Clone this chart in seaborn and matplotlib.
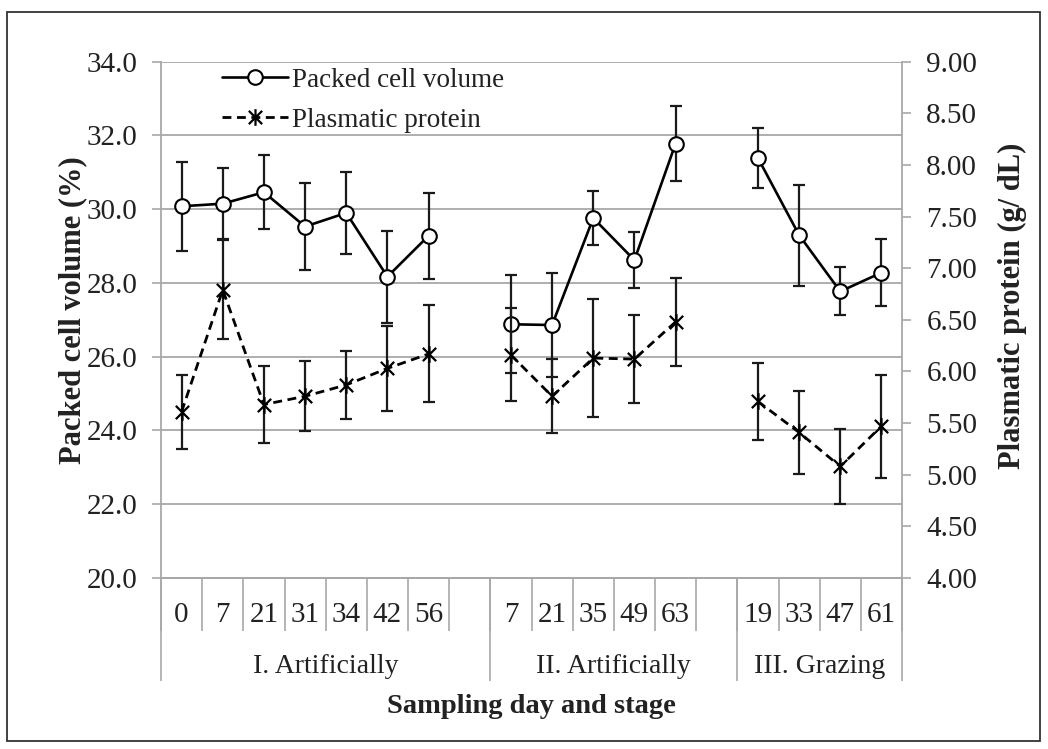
import numpy as np
import pandas as pd
import matplotlib
matplotlib.use("Agg")
import matplotlib.pyplot as plt
import seaborn as sns
from matplotlib.path import Path
from matplotlib.lines import Line2D
from matplotlib.patches import Rectangle
from matplotlib.ticker import FormatStrFormatter, FixedLocator

# ---------------- data ----------------
stages = ["I. Artificially", "II. Artificially", "III. Grazing"]
days_I = [0, 7, 21, 31, 34, 42, 56]
days_II = [7, 21, 35, 49, 63]
days_III = [19, 33, 47, 61]

pcv_I = [30.08, 30.15, 30.46, 29.53, 29.90, 28.17, 29.28]
pcv_II = [26.88, 26.86, 29.76, 28.62, 31.78]
pcv_III = [31.39, 29.30, 27.77, 28.28]
pcv_err_I = [1.20, 0.96, 1.00, 1.18, 1.12, 1.25, 1.17]
pcv_err_II = [1.33, 1.42, 0.74, 0.75, 1.02]
pcv_err_III = [0.82, 1.37, 0.65, 0.91]

prot_I = [5.61, 6.79, 5.68, 5.76, 5.87, 6.03, 6.17]
prot_II = [6.16, 5.76, 6.13, 6.12, 6.48]
prot_III = [5.71, 5.41, 5.08, 5.47]
prot_err_I = [0.36, 0.48, 0.37, 0.34, 0.33, 0.41, 0.47]
prot_err_II = [0.45, 0.36, 0.57, 0.43, 0.43]
prot_err_III = [0.37, 0.40, 0.36, 0.50]

blank_slots_after = [1, 1, 0]   # empty category slots after each stage

series_names = ["Packed cell volume", "Plasmatic protein"]
left_label = "Packed cell volume (%)"
right_label = "Plasmatic protein (g/ dL)"
x_label = "Sampling day and stage"

# ---------------- build table ----------------
groups = [
    (stages[0], days_I, pcv_I, pcv_err_I, prot_I, prot_err_I, blank_slots_after[0]),
    (stages[1], days_II, pcv_II, pcv_err_II, prot_II, prot_err_II, blank_slots_after[1]),
    (stages[2], days_III, pcv_III, pcv_err_III, prot_III, prot_err_III, blank_slots_after[2]),
]
rows = []
slot_labels = []
group_bounds = [-0.5]
group_centers = []
pos = 0
for stage, d, p, pe, q, qe, nblank in groups:
    start = pos
    for i in range(len(d)):
        rows.append(dict(stage=stage, pos=pos, day=d[i], pcv=p[i], pcv_err=pe[i],
                         prot=q[i], prot_err=qe[i]))
        slot_labels.append(str(d[i]))
        pos += 1
    for _ in range(nblank):
        slot_labels.append("")
        pos += 1
    group_bounds.append(pos - 0.5)
    group_centers.append((start - 0.5 + pos - 0.5) / 2)
df = pd.DataFrame(rows)
n_slots = pos

# ---------------- style ----------------
sns.set_style("white")
plt.rcParams["font.family"] = ["Liberation Serif", "DejaVu Serif"]
FS_TICK = 21
FS_LEG = 19.5
FS_GROUP = 20
FS_YLAB = 22
FS_XLAB = 20.5
TXT = "#222222"
GRID = "#a8a8a8"

W, H = 1048, 749
fig = plt.figure(figsize=(W / 100, H / 100), dpi=100)
fig.patch.set_facecolor("white")
L, R, T, B = 161, 902, 61.7, 578
ax = fig.add_axes([L / W, 1 - B / H, (R - L) / W, (B - T) / H])
ax2 = ax.twinx()

# star (asterisk) marker like Excel: x plus vertical bar
star = Path([(-1, -1), (1, 1), (-1, 1), (1, -1), (0, -1.25), (0, 1.25)],
            [Path.MOVETO, Path.LINETO, Path.MOVETO, Path.LINETO, Path.MOVETO, Path.LINETO])

# error bars
ax.errorbar(df["pos"], df["pcv"], yerr=df["pcv_err"], fmt="none", ecolor="#1a1a1a",
            elinewidth=1.6, capsize=4.6, capthick=1.6, zorder=2)
ax2.errorbar(df["pos"], df["prot"], yerr=df["prot_err"], fmt="none", ecolor="#1a1a1a",
             elinewidth=1.6, capsize=4.6, capthick=1.6, zorder=2)

# lines
sns.lineplot(data=df, x="pos", y="pcv", units="stage", estimator=None, ax=ax,
             color="black", lw=1.9, marker="o", markersize=10.5,
             markerfacecolor="white", markeredgecolor="black", markeredgewidth=1.5,
             zorder=3, legend=False)
sns.lineplot(data=df, x="pos", y="prot", units="stage", estimator=None, ax=ax2,
             color="black", lw=2.0, linestyle=(0, (3.2, 2.0)), marker=star, markersize=12,
             markerfacecolor="none", markeredgecolor="black", markeredgewidth=1.6,
             zorder=3, legend=False)

# ---------------- axes ----------------
ax.set_xlim(-0.5, n_slots - 0.5)
ax.set_ylim(20, 34)
ax2.set_ylim(4, 9)
ax.set_yticks(np.arange(20, 34.01, 2))
ax2.set_yticks(np.arange(4, 9.001, 0.5))
ax.yaxis.set_major_formatter(FormatStrFormatter("%.1f"))
ax2.yaxis.set_major_formatter(FormatStrFormatter("%.2f"))

ax.yaxis.grid(True, color=GRID, lw=1.3)
ax.xaxis.grid(False)
ax2.grid(False)
ax.set_axisbelow(True)

for s in ["top", "right"]:
    ax.spines[s].set_visible(False)
for s in ["top", "left", "bottom"]:
    ax2.spines[s].set_visible(False)
for sp in [ax.spines["left"], ax.spines["bottom"], ax2.spines["right"]]:
    sp.set_color(GRID)
    sp.set_linewidth(1.3)

ax.tick_params(axis="y", left=True, direction="out", length=6.5, width=1.2, color=GRID,
               labelsize=FS_TICK, labelcolor=TXT, pad=10.5)
ax2.tick_params(axis="y", right=True, direction="out", length=6.5, width=1.2, color=GRID,
                labelsize=FS_TICK, labelcolor=TXT, pad=11)

# x: day labels + slot separators
ax.set_xticks(range(n_slots))
ax.set_xticklabels(slot_labels)
ax.xaxis.set_minor_locator(FixedLocator(np.arange(-0.5, n_slots, 1.0)))
ax.tick_params(axis="x", which="major", bottom=True, length=0, labelsize=FS_TICK,
               labelcolor=TXT, pad=17)
ax.tick_params(axis="x", which="minor", bottom=True, direction="out", length=38,
               width=1.2, color=GRID)

# stage labels + stage separators
sec = ax.secondary_xaxis("bottom")
sec.set_xticks(group_centers)
sec.set_xticklabels(stages)
sec.xaxis.set_minor_locator(FixedLocator(group_bounds))
sec.tick_params(axis="x", which="major", bottom=True, length=0, labelsize=FS_GROUP,
                labelcolor=TXT, pad=55)
sec.tick_params(axis="x", which="minor", bottom=True, direction="out", length=74,
                width=1.2, color=GRID)
sec.spines["bottom"].set_color(GRID)
sec.spines["bottom"].set_linewidth(1.3)

ax.set_xlabel(x_label, fontsize=FS_XLAB, fontweight="bold", color=TXT)
ax.xaxis.set_label_coords(0.5, -0.2255)
ax.set_ylabel(left_label, fontsize=FS_YLAB, fontweight="bold", color=TXT)
ax.yaxis.set_label_coords(-0.0995, 0.519)
ax2.set_ylabel(right_label, fontsize=FS_YLAB, fontweight="bold", color=TXT)
ax2.yaxis.set_label_coords(1.1296, 0.527)

# legend
h1 = Line2D([], [], color="black", lw=1.9, marker="o", markersize=10.5,
            markerfacecolor="white", markeredgecolor="black", markeredgewidth=1.5)
h2 = Line2D([], [], color="black", lw=2.0, linestyle=(0, (3.2, 2.0)), marker=star,
            markersize=12, markerfacecolor="none", markeredgecolor="black", markeredgewidth=1.6)
leg = ax2.legend([h1, h2], series_names, loc="upper left", bbox_to_anchor=(0.082, 0.988),
                 frameon=False, borderaxespad=0, borderpad=0, handlelength=2.45,
                 handletextpad=0.15, labelspacing=0.55, fontsize=FS_LEG)
for t in leg.get_texts():
    t.set_color(TXT)

# outer frame
fig.patches.append(Rectangle((7 / W, 1 - 741 / H), (1040 - 7) / W, (741 - 12) / H,
                             transform=fig.transFigure, fill=False, ec="#333333", lw=1.3))

fig.savefig("out.png", dpi=100, facecolor="white")
